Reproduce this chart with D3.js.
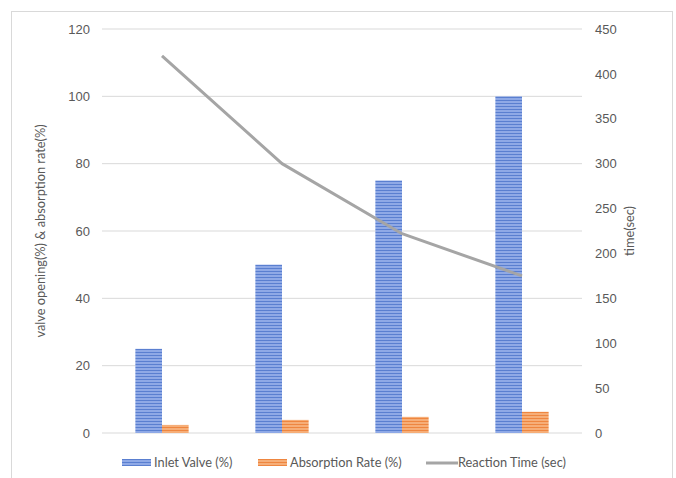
<!DOCTYPE html>
<html>
<head>
<meta charset="utf-8">
<script src="https://cdn.jsdelivr.net/npm/d3@7"></script>
<style>
  html, body { margin: 0; padding: 0; background: #fff; }
  svg { display: block; font-family: Lato, "Open Sans", sans-serif; }
</style>
</head>
<body>
<svg id="chart" width="676" height="478"></svg>
<script>
// Data: four valve settings
const categories = ["A", "B", "C", "D"];
const inletValve = [25, 50, 75, 100];
const absorptionRate = [2.4, 3.9, 4.8, 6.3];
const reactionTime = [420, 300, 222, 175];
const leftTicks = [0, 20, 40, 60, 80, 100, 120];
const rightTicks = [0, 50, 100, 150, 200, 250, 300, 350, 400, 450];

const svg = d3.select("#chart");
const W = 676, H = 478;
const margin = { left: 102, right: 94, top: 29, bottom: 45 };
const plotW = W - margin.left - margin.right;
const plotH = H - margin.top - margin.bottom;
const textColor = "#595959";

// Outer chart frame
svg.append("rect")
  .attr("x", 11.5).attr("y", 11.5)
  .attr("width", 661).attr("height", 480)
  .attr("fill", "#fff").attr("stroke", "#d9d9d9").attr("stroke-width", 1);

// Striped fills for the bars
const defs = svg.append("defs");
function stripes(id, base, line) {
  const p = defs.append("pattern").attr("id", id)
    .attr("patternUnits", "userSpaceOnUse").attr("width", 8).attr("height", 3);
  p.append("rect").attr("width", 8).attr("height", 3).attr("fill", base);
  p.append("rect").attr("y", 2).attr("width", 8).attr("height", 1).attr("fill", line);
}
stripes("blueStripe", "#8FA9E6", "#5A7FD0");
stripes("orangeStripe", "#F6AE78", "#EE8640");

const g = svg.append("g").attr("transform", `translate(${margin.left},${margin.top})`);

const x0 = d3.scaleBand().domain(categories).range([0, plotW]).paddingInner(0).paddingOuter(0);
const yL = d3.scaleLinear().domain([0, 120]).range([plotH, 0]);
const yR = d3.scaleLinear().domain([0, 450]).range([plotH, 0]);
const barW = x0.bandwidth() * 0.222;

// Horizontal gridlines
g.append("g").selectAll("line").data(leftTicks).join("line")
  .attr("x1", 0).attr("x2", plotW)
  .attr("y1", d => yL(d)).attr("y2", d => yL(d))
  .attr("stroke", "#d9d9d9").attr("stroke-width", 1);

// Left axis labels
const axL = g.append("g").call(d3.axisLeft(yL).tickValues(leftTicks).tickSize(0).tickPadding(12));
axL.select(".domain").remove();
axL.selectAll("text").attr("fill", textColor).style("font-size", "13px");

// Right axis labels
const axR = g.append("g").attr("transform", `translate(${plotW},0)`)
  .call(d3.axisRight(yR).tickValues(rightTicks).tickSize(0).tickPadding(13));
axR.select(".domain").remove();
axR.selectAll("text").attr("fill", textColor).style("font-size", "13px");

// Bars
const cx = d => x0(d) + x0.bandwidth() / 2;
g.append("g").selectAll("rect").data(categories).join("rect")
  .attr("x", (d) => cx(d) - barW)
  .attr("y", (d, i) => yL(inletValve[i]))
  .attr("width", barW)
  .attr("height", (d, i) => plotH - yL(inletValve[i]))
  .attr("fill", "url(#blueStripe)");
g.append("g").selectAll("rect").data(categories).join("rect")
  .attr("x", (d) => cx(d))
  .attr("y", (d, i) => yL(absorptionRate[i]))
  .attr("width", barW)
  .attr("height", (d, i) => plotH - yL(absorptionRate[i]))
  .attr("fill", "url(#orangeStripe)");

// Reaction time line on the secondary axis
const line = d3.line().x((d, i) => cx(categories[i])).y(d => yR(d));
g.append("path").datum(reactionTime)
  .attr("d", line)
  .attr("fill", "none").attr("stroke", "#A5A5A5").attr("stroke-width", 3)
  .attr("stroke-linejoin", "round");

// Axis titles
svg.append("text")
  .attr("transform", `translate(45,${margin.top + plotH / 2}) rotate(-90)`)
  .attr("text-anchor", "middle").attr("fill", textColor).style("font-size", "12.8px")
  .text("valve opening(%) & absorption rate(%)");
svg.append("text")
  .attr("transform", `translate(634,${margin.top + plotH / 2}) rotate(-90)`)
  .attr("text-anchor", "middle").attr("fill", textColor).style("font-size", "12.8px")
  .text("time(sec)");

// Legend
const legend = svg.append("g").attr("transform", "translate(0,463)");
const items = [
  { label: "Inlet Valve (%)", type: "bar", fill: "url(#blueStripe)", x: 122 },
  { label: "Absorption Rate (%)", type: "bar", fill: "url(#orangeStripe)", x: 258 },
  { label: "Reaction Time (sec)", type: "line", x: 426 }
];
items.forEach(it => {
  if (it.type === "bar") {
    legend.append("rect").attr("x", it.x).attr("y", -4).attr("width", 29).attr("height", 7).attr("fill", it.fill);
  } else {
    legend.append("line").attr("x1", it.x).attr("x2", it.x + 32).attr("y1", 0).attr("y2", 0)
      .attr("stroke", "#A5A5A5").attr("stroke-width", 3);
  }
  legend.append("text").attr("x", it.x + 32).attr("y", 0).attr("dy", "0.35em")
    .attr("fill", textColor).style("font-size", "12.8px").text(it.label);
});
</script>
</body>
</html>
